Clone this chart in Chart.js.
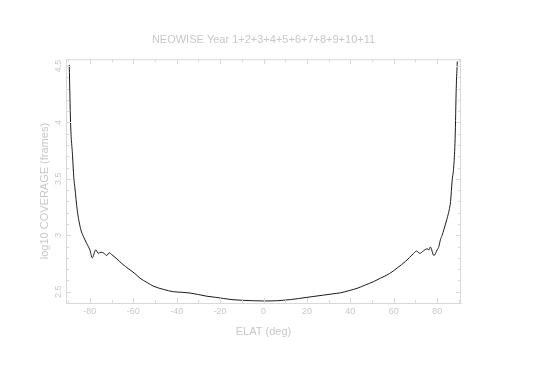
<!DOCTYPE html>
<html>
<head>
<meta charset="utf-8">
<script src="https://cdn.jsdelivr.net/npm/chart.js@4"></script>
<style>
  body { margin: 0; background: #fff; }
  #wrap { width: 550px; height: 382px; }
</style>
</head>
<body>
<div id="wrap"><canvas id="chart" width="550" height="382"></canvas></div>
<script>
// ecliptic latitude (deg) and log10 coverage
const elat = [-89.5, -88.9, -88.0, -87.4, -86.9, -85.8, -84.3, -83.0, -81.5, -80.0, -78.9, -77.3, -76.1, -74.9, -73.4, -72.3, -71.1, -70.0, -67.5, -65.3, -62.0, -59.2, -56.9, -53.5, -50.8, -46.0, -41.5, -37.5, -33.8, -30.0, -26.1, -22.0, -18.5, -14.5, -10.8, -5.0, 0, 6.0, 12.3, 20.0, 27.7, 31.5, 35.4, 39.5, 43.1, 47.0, 50.8, 53.9, 58.0, 61.6, 65.5, 69.2, 70.5, 72.0, 73.6, 75.4, 76.2, 76.9, 78.5, 80.0, 80.8, 81.5, 82.3, 83.1, 84.6, 85.5, 86.2, 86.9, 87.7, 88.3, 88.8, 89.3];
const coverage = [4.51, 4.00, 3.71, 3.51, 3.42, 3.22, 3.06, 2.99, 2.93, 2.87, 2.80, 2.87, 2.84, 2.85, 2.84, 2.82, 2.845, 2.83, 2.79, 2.75, 2.70, 2.66, 2.62, 2.58, 2.55, 2.52, 2.50, 2.495, 2.488, 2.475, 2.46, 2.45, 2.44, 2.43, 2.425, 2.42, 2.418, 2.42, 2.43, 2.45, 2.47, 2.48, 2.49, 2.51, 2.53, 2.56, 2.59, 2.62, 2.66, 2.71, 2.77, 2.84, 2.86, 2.84, 2.86, 2.88, 2.87, 2.896, 2.82, 2.87, 2.90, 2.96, 3.00, 3.05, 3.15, 3.22, 3.30, 3.48, 3.62, 3.86, 4.30, 4.54];

const xTicks = [-80, -60, -40, -20, 0, 20, 40, 60, 80];
const yTicks = [2.5, 3, 3.5, 4, 4.5];

const textGray = '#c8c8c8';
const frameGray = '#d9d9d9';

// inward tick marks, top/right frame and rotated y labels
const framePlugin = {
    id: 'frame',
    afterDraw(chart) {
        const ctx = chart.ctx;
        const a = chart.chartArea;
        const xs = chart.scales.x;
        const ys = chart.scales.y;
        ctx.save();
        ctx.strokeStyle = frameGray;
        ctx.lineWidth = 1;
        ctx.beginPath();
        ctx.moveTo(a.left, a.top + 0.5);
        ctx.lineTo(a.right, a.top + 0.5);
        ctx.moveTo(a.right - 0.5, a.top);
        ctx.lineTo(a.right - 0.5, a.bottom);
        for (let v = -90; v <= 90; v += 10) {
            const px = Math.round(xs.getPixelForValue(v)) + 0.5;
            const len = v % 20 === 0 ? 5 : 3;
            ctx.moveTo(px, a.bottom);
            ctx.lineTo(px, a.bottom - len);
            ctx.moveTo(px, a.top);
            ctx.lineTo(px, a.top + len);
        }
        for (let i = 25; i <= 45; i++) {
            const v = i / 10;
            const py = Math.round(ys.getPixelForValue(v)) + 0.5;
            const len = i % 5 === 0 ? 5 : 3;
            ctx.moveTo(a.left, py);
            ctx.lineTo(a.left + len, py);
            ctx.moveTo(a.right, py);
            ctx.lineTo(a.right - len, py);
        }
        ctx.stroke();

        ctx.fillStyle = textGray;
        ctx.textAlign = 'center';
        ctx.textBaseline = 'middle';
        ctx.font = '9px "Liberation Sans"';
        yTicks.forEach(v => {
            ctx.save();
            ctx.translate(a.left - 7, ys.getPixelForValue(v));
            ctx.rotate(-Math.PI / 2);
            ctx.fillText(String(v), 0, 0);
            ctx.restore();
        });
        ctx.font = '11px "Liberation Sans"';
        ctx.save();
        ctx.translate(a.left - 21, (a.top + a.bottom) / 2 + 10);
        ctx.rotate(-Math.PI / 2);
        ctx.fillText('log10 COVERAGE (frames)', 0, 0);
        ctx.restore();
        ctx.restore();
    }
};

new Chart(document.getElementById('chart'), {
    type: 'line',
    data: {
        datasets: [{
            data: elat.map((x, i) => ({ x: x, y: coverage[i] })),
            borderColor: '#1a1a1a',
            borderWidth: 1,
            pointRadius: 0,
            cubicInterpolationMode: 'monotone',
            fill: false
        }]
    },
    options: {
        responsive: false,
        animation: false,
        layout: {
            padding: { left: 36, right: 89, top: 0, bottom: 43 }
        },
        plugins: {
            legend: { display: false },
            tooltip: { enabled: false },
            title: {
                display: true,
                text: 'NEOWISE Year 1+2+3+4+5+6+7+8+9+10+11',
                color: textGray,
                fullSize: false,
                font: { family: 'Liberation Sans', size: 11, weight: 'normal' },
                padding: { top: 33, bottom: 13 }
            }
        },
        scales: {
            x: {
                type: 'linear',
                min: -91,
                max: 91,
                afterBuildTicks: s => { s.ticks = xTicks.map(v => ({ value: v })); },
                afterFit: s => { s.height = 36; },
                grid: { display: false, drawTicks: false },
                border: { display: true, color: frameGray },
                ticks: {
                    color: textGray,
                    padding: 3,
                    maxRotation: 0,
                    font: { family: 'Liberation Sans', size: 9 }
                },
                title: {
                    display: true,
                    text: 'ELAT (deg)',
                    color: textGray,
                    padding: 0,
                    font: { family: 'Liberation Sans', size: 11 }
                }
            },
            y: {
                type: 'linear',
                min: 2.4,
                max: 4.56,
                afterBuildTicks: s => { s.ticks = yTicks.map(v => ({ value: v })); },
                afterFit: s => { s.width = 30; },
                grid: { display: false, drawTicks: false },
                border: { display: true, color: frameGray },
                ticks: { display: false }
            }
        }
    },
    plugins: [framePlugin]
});
</script>
</body>
</html>
